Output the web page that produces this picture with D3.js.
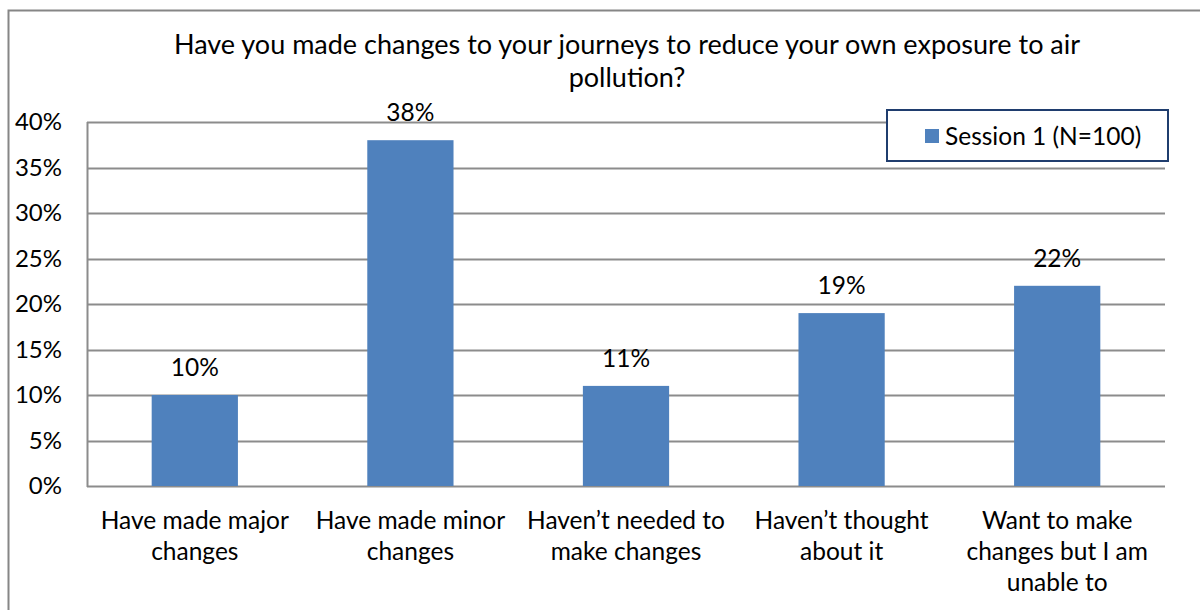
<!DOCTYPE html>
<html>
<head>
<meta charset="utf-8">
<script src="https://cdn.jsdelivr.net/npm/d3@7"></script>
<style>
  body { margin: 0; background: #fff; }
  text { font-family: Lato, "Open Sans", sans-serif; fill: #000; }
</style>
</head>
<body>
<div class="chart"></div>
<script>
var categories = [
  ["Have made major", "changes"],
  ["Have made minor", "changes"],
  ["Haven\u2019t needed to", "make changes"],
  ["Haven\u2019t thought", "about it"],
  ["Want to make", "changes but I am", "unable to"]
]
var values = [10, 38, 11, 19, 22]
var yTicks = [0, 5, 10, 15, 20, 25, 30, 35, 40]
var seriesName = "Session 1 (N=100)"
var title = ["Have you made changes to your journeys to reduce your own exposure to air", "pollution?"]

var width = 1200, height = 610
var plot = {left: 87, right: 1165, top: 122, bottom: 486}
var fontSize = '24.5px'

var svg = d3.select('.chart')
            .append('svg')
            .attr('width', width)
            .attr('height', height)

// outer frame (right and bottom run off the picture)
svg.append('path')
   .attr('d', 'M8.5,' + height + ' V10.5 H' + width)
   .style('fill', 'none')
   .style('stroke', '#868686')
   .style('stroke-width', 2)

var xScale = d3.scaleBand()
               .domain(d3.range(categories.length))
               .range([plot.left, plot.right])
               .paddingInner(0.6)
               .paddingOuter(0.3)

var yScale = d3.scaleLinear()
               .domain([0, 40])
               .range([plot.bottom, plot.top])

// gridlines
svg.append('g')
   .selectAll('line')
   .data(yTicks)
   .enter()
   .append('line')
   .attr('x1', plot.left)
   .attr('x2', plot.right)
   .attr('y1', function(d){ return Math.round(yScale(d)) + 0.5 })
   .attr('y2', function(d){ return Math.round(yScale(d)) + 0.5 })
   .style('stroke', '#8c8c8c')
   .style('stroke-width', 2)

// left axis line
svg.append('line')
   .attr('x1', plot.left + 0.5).attr('x2', plot.left + 0.5)
   .attr('y1', plot.top).attr('y2', plot.bottom + 1)
   .style('stroke', '#8c8c8c')
   .style('stroke-width', 2)

// y tick labels
svg.append('g')
   .selectAll('text')
   .data(yTicks)
   .enter()
   .append('text')
   .attr('x', 62)
   .attr('y', function(d){ return yScale(d) })
   .attr('dy', '0.35em')
   .attr('text-anchor', 'end')
   .style('font-size', '24px')
   .text(function(d){ return d + '%' })

// bars
svg.append('g')
   .selectAll('rect')
   .data(values)
   .enter()
   .append('rect')
   .attr('x', function(d, i){ return xScale(i) })
   .attr('width', xScale.bandwidth())
   .attr('y', function(d){ return yScale(d) })
   .attr('height', function(d){ return plot.bottom - yScale(d) })
   .style('fill', '#4f81bd')

// value labels
svg.append('g')
   .selectAll('text')
   .data(values)
   .enter()
   .append('text')
   .attr('x', function(d, i){ return xScale(i) + xScale.bandwidth() / 2 })
   .attr('y', function(d){ return yScale(d) - 19 })
   .attr('text-anchor', 'middle')
   .style('font-size', fontSize)
   .text(function(d){ return d + '%' })

// category labels
var catG = svg.append('g')
              .selectAll('text')
              .data(categories)
              .enter()
              .append('text')
              .attr('text-anchor', 'middle')
              .style('font-size', fontSize)
              .attr('transform', function(d, i){
                  return 'translate(' + (xScale(i) + xScale.bandwidth() / 2) + ',529)'
              })
catG.selectAll('tspan')
    .data(function(d){ return d })
    .enter()
    .append('tspan')
    .attr('x', 0)
    .attr('y', function(d, i){ return i * 31 })
    .text(function(d){ return d })

// title
svg.append('text')
   .attr('text-anchor', 'middle')
   .attr('transform', 'translate(627,54)')
   .style('font-size', '27px')
   .selectAll('tspan')
   .data(title)
   .enter()
   .append('tspan')
   .attr('x', 0)
   .attr('y', function(d, i){ return i * 33 })
   .text(function(d){ return d })

// legend
var legend = svg.append('g').attr('transform', 'translate(887,110)')
legend.append('rect')
      .attr('width', 281)
      .attr('height', 51)
      .style('fill', '#fff')
      .style('stroke', '#1f3d6e')
      .style('stroke-width', 2)
legend.append('rect')
      .attr('x', 38)
      .attr('y', 19)
      .attr('width', 14)
      .attr('height', 14)
      .style('fill', '#4f81bd')
legend.append('text')
      .attr('x', 58)
      .attr('y', 26)
      .attr('dy', '0.35em')
      .style('font-size', fontSize)
      .text(seriesName)
</script>
</body>
</html>
